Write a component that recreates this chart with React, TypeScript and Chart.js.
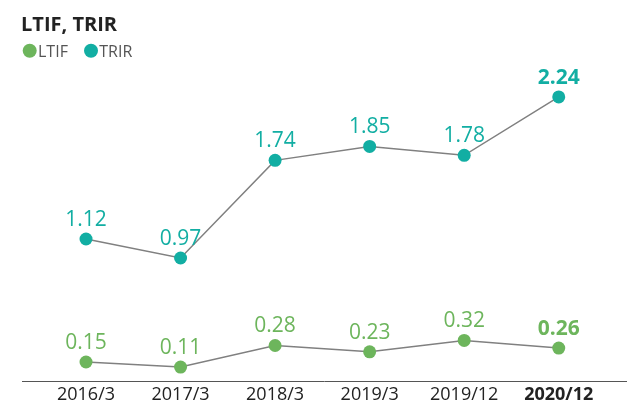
import React, { useEffect, useRef } from "react";
import { Chart, registerables } from "chart.js";

Chart.register(...registerables);

const categories = ["2016/3", "2017/3", "2018/3", "2019/3", "2019/12", "2020/12"];
const ltifValues = [0.15, 0.11, 0.28, 0.23, 0.32, 0.26];
const trirValues = [1.12, 0.97, 1.74, 1.85, 1.78, 2.24];
const seriesNames = ["LTIF", "TRIR"];
const titleText = "LTIF, TRIR";

const GREEN = "#6db55c";
const TEAL = "#12aea3";
const FONT = "'Open Sans', 'Noto Sans', sans-serif";

const valueLabelPlugin = {
  id: "valueLabels",
  afterDatasetsDraw(chart: any) {
    const ctx = chart.ctx;
    ctx.save();
    chart.data.datasets.forEach((ds: any, di: number) => {
      const meta = chart.getDatasetMeta(di);
      meta.data.forEach((pt: any, i: number) => {
        const last = i === ds.data.length - 1;
        ctx.font = `${last ? "bold " : ""}21px ${FONT}`;
        ctx.fillStyle = ds.backgroundColor;
        ctx.textAlign = "center";
        ctx.textBaseline = "alphabetic";
        ctx.fillText(ds.data[i].toFixed(2), pt.x, pt.y - 13);
      });
    });
    ctx.restore();
  },
};

const axisLinePlugin = {
  id: "axisLine",
  afterDraw(chart: any) {
    const ctx = chart.ctx;
    const y = Math.round(chart.scales.y.getPixelForValue(0)) + 0.5;
    ctx.save();
    ctx.strokeStyle = "#555";
    ctx.lineWidth = 1;
    ctx.beginPath();
    ctx.moveTo(22, y);
    ctx.lineTo(chart.width, y);
    ctx.stroke();
    ctx.restore();
  },
};

const legendPlugin = {
  id: "dotLegend",
  afterDraw(chart: any) {
    const ctx = chart.ctx;
    ctx.save();
    const items = [
      { name: seriesNames[0], color: GREEN, cx: 29.7, tx: 38 },
      { name: seriesNames[1], color: TEAL, cx: 91, tx: 99.3 },
    ];
    items.forEach((it) => {
      ctx.fillStyle = it.color;
      ctx.beginPath();
      ctx.arc(it.cx, 50.7, 7, 0, Math.PI * 2);
      ctx.fill();
      ctx.font = `16px ${FONT}`;
      ctx.fillStyle = "#555";
      ctx.textAlign = "left";
      ctx.textBaseline = "alphabetic";
      ctx.fillText(it.name, it.tx, 56.5);
    });
    ctx.restore();
  },
};

export default function App() {
  const canvasRef = useRef<HTMLCanvasElement | null>(null);

  useEffect(() => {
    if (!canvasRef.current) return;
    const chart = new Chart(canvasRef.current, {
      type: "line",
      data: {
        labels: categories,
        datasets: [
          {
            label: seriesNames[0],
            data: ltifValues,
            borderColor: "#808080",
            borderWidth: 1.5,
            backgroundColor: GREEN,
            pointBackgroundColor: GREEN,
            pointBorderWidth: 0,
            pointRadius: 6.5,
            pointHoverRadius: 6.5,
            tension: 0,
          },
          {
            label: seriesNames[1],
            data: trirValues,
            borderColor: "#808080",
            borderWidth: 1.5,
            backgroundColor: TEAL,
            pointBackgroundColor: TEAL,
            pointBorderWidth: 0,
            pointRadius: 6.5,
            pointHoverRadius: 6.5,
            tension: 0,
          },
        ],
      },
      options: {
        responsive: false,
        animation: false,
        devicePixelRatio: 1,
        layout: { padding: { left: 21, right: 21, top: 0, bottom: 0 } },
        plugins: {
          legend: { display: false },
          tooltip: { enabled: false },
          title: {
            display: true,
            text: titleText,
            align: "start",
            color: "#222",
            font: { family: FONT, size: 20, weight: "bold", lineHeight: 1.2 },
            padding: { top: 12.8, bottom: 27.2 },
          },
        },
        scales: {
          x: {
            offset: true,
            grid: { display: false, drawTicks: false },
            border: { display: false },
            ticks: {
              padding: 3,
              color: "#222",
              font: (c: any) => ({
                family: FONT,
                size: 18,
                weight: c.index === categories.length - 1 ? "bold" : "normal",
              }),
            },
            afterFit: (s: any) => {
              s.height = 22;
            },
          },
          y: {
            min: 0,
            max: 2.5,
            grid: { display: false, drawTicks: false },
            border: { display: false },
            ticks: { display: false },
            afterFit: (s: any) => {
              s.width = 17.75;
            },
          },
        },
      },
      plugins: [valueLabelPlugin, axisLinePlugin, legendPlugin],
    });
    return () => chart.destroy();
  }, []);

  return (
    <div style={{ position: "absolute", left: 0, top: 0, width: 627, height: 403, background: "#fff" }}>
      <canvas ref={canvasRef} width={627} height={403} />
    </div>
  );
}
